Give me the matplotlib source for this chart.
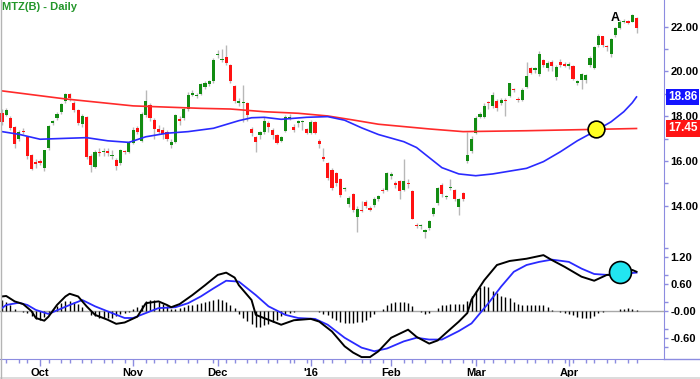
import numpy as np
import pandas as pd
import matplotlib
matplotlib.use('Agg')
import matplotlib.pyplot as plt
from matplotlib.lines import Line2D
from matplotlib.patches import Rectangle

plt.rcParams['font.family'] = ['Liberation Sans', 'DejaVu Sans']

# trading days shown on the chart
holidays = ['2015-11-26', '2015-12-25', '2016-01-01', '2016-01-18', '2016-02-15', '2016-03-25']
dates = pd.bdate_range('2015-09-18', '2016-04-25', freq='C', holidays=holidays)
month_labels = ['Oct', 'Nov', 'Dec', "'16", 'Feb', 'Mar', 'Apr']
price_ticks = [14, 16, 18, 20, 22]
macd_ticks = [-0.6, 0, 0.6, 1.2]
macd_tick_labels = ['-0.60', '-0.00', '0.60', '1.20']

opens = [18.14, 18.07, 17.92, 17.50, 17.00, 17.35, 17.07, 16.27, 15.95, 16.00,
         15.68, 16.58, 17.70, 17.90, 18.19, 18.68, 18.98, 18.60, 18.27, 17.65,
         17.96, 16.20, 15.73, 16.42, 16.38, 16.45, 16.20, 16.05, 15.90, 16.45,
         16.40, 16.80, 17.47, 16.90, 18.05, 18.50, 17.83, 17.42, 17.40, 17.30,
         16.70, 16.85, 17.86, 17.90, 18.30, 18.95, 18.88, 19.00, 19.30, 19.45,
         19.55, 20.75, 20.50, 20.65, 20.30, 19.35, 18.60, 18.60, 18.60, 17.42,
         17.05, 17.15, 17.30, 17.70, 17.40, 17.15, 16.90, 17.33, 17.90, 17.50,
         17.70, 17.72, 17.42, 17.25, 17.75, 16.90, 16.17, 15.90, 15.60, 15.45,
         15.20, 14.74, 14.06, 14.52, 13.50, 13.82, 14.15, 13.87, 14.02, 14.30,
         14.70, 14.70, 15.32, 15.00, 15.10, 14.72, 15.02, 14.67, 13.12, 13.08,
         12.84, 13.00, 13.62, 14.10, 14.92, 14.38, 14.80, 14.70, 13.93, 14.55,
         16.02, 16.45, 17.24, 17.95, 17.95, 18.65, 18.45, 18.70, 18.60, 18.72,
         18.90, 19.20, 18.78, 18.73, 19.30, 20.14, 20.07, 19.88, 20.50, 20.14,
         20.43, 19.74, 20.43, 20.30, 20.26, 20.24, 19.47, 19.62, 19.60, 20.29,
         20.14, 21.18, 21.58, 21.12, 20.80, 21.63, 21.93, 22.22, 22.25, 22.22,
         22.37]
highs = [18.30, 18.35, 18.00, 17.55, 17.40, 17.45, 17.10, 16.30, 16.10, 16.10,
         16.50, 17.60, 17.85, 18.20, 18.60, 19.05, 19.05, 18.70, 18.30, 18.10,
         18.00, 16.30, 16.50, 16.60, 16.60, 16.60, 16.50, 16.15, 16.55, 16.50,
         16.90, 17.50, 17.55, 18.20, 19.17, 18.60, 17.90, 17.60, 17.50, 17.40,
         17.00, 18.10, 18.00, 18.40, 19.10, 19.15, 19.05, 19.50, 19.55, 19.60,
         20.60, 20.95, 21.00, 21.20, 20.35, 19.40, 18.80, 19.40, 18.65, 17.50,
         17.10, 17.35, 17.95, 17.80, 17.45, 17.20, 17.10, 18.05, 18.10, 17.65,
         17.85, 17.85, 17.45, 17.85, 17.80, 17.00, 16.60, 15.95, 15.70, 15.50,
         15.25, 14.85, 14.45, 14.55, 14.00, 14.20, 14.25, 14.00, 14.40, 14.50,
         14.80, 15.50, 15.50, 15.10, 15.15, 16.10, 15.20, 14.70, 13.25, 13.20,
         12.95, 13.35, 13.95, 14.85, 15.00, 14.50, 15.20, 14.75, 14.35, 14.60,
         17.28, 17.10, 18.00, 18.20, 18.60, 18.70, 19.10, 18.75, 18.80, 18.80,
         19.50, 19.25, 18.85, 19.25, 20.40, 20.20, 20.20, 20.90, 20.55, 20.45,
         20.50, 20.30, 20.55, 20.40, 20.40, 20.30, 19.60, 19.95, 19.90, 20.70,
         21.15, 21.65, 21.60, 21.20, 21.50, 22.00, 22.30, 22.35, 22.30, 22.55,
         22.45]
lows = [17.60, 18.00, 17.40, 16.60, 16.90, 17.20, 16.10, 15.58, 15.70, 15.80,
        15.55, 16.50, 17.60, 17.85, 18.10, 18.60, 18.70, 18.20, 17.60, 17.50,
        16.10, 15.52, 15.70, 16.20, 16.20, 16.20, 16.10, 15.60, 15.80, 16.30,
        16.35, 16.75, 17.20, 16.85, 17.95, 17.80, 17.00, 17.20, 17.00, 16.90,
        16.60, 16.80, 17.60, 17.85, 18.25, 18.90, 18.80, 18.95, 19.20, 19.35,
        19.50, 20.60, 20.40, 20.30, 19.50, 18.60, 18.45, 17.75, 17.80, 17.10,
        16.40, 17.00, 17.20, 17.30, 17.00, 16.75, 16.85, 17.30, 17.85, 17.30,
        17.50, 17.40, 17.20, 17.20, 17.20, 16.60, 16.00, 15.15, 14.70, 14.90,
        14.40, 14.65, 13.95, 13.70, 12.84, 13.70, 13.90, 13.75, 13.95, 14.20,
        14.55, 14.65, 15.20, 14.80, 14.30, 14.65, 14.80, 13.40, 13.00, 12.95,
        12.55, 12.90, 13.55, 14.05, 14.40, 14.30, 14.70, 14.20, 13.60, 14.20,
        15.90, 16.35, 17.20, 17.90, 17.90, 18.30, 18.35, 18.25, 18.50, 18.00,
        18.85, 19.10, 18.65, 18.70, 19.25, 19.90, 19.95, 19.80, 20.20, 20.00,
        20.00, 19.60, 20.20, 20.20, 20.10, 19.60, 19.40, 19.20, 19.50, 20.20,
        20.10, 21.10, 21.10, 20.90, 20.65, 21.55, 21.90, 22.15, 22.10, 22.20,
        21.70]
closes = [17.74, 18.26, 17.47, 16.75, 17.30, 17.28, 16.22, 15.64, 15.88, 15.90,
          16.47, 17.56, 17.78, 18.10, 18.55, 19.00, 18.80, 18.28, 17.70, 18.00,
          16.17, 15.80, 16.40, 16.37, 16.42, 16.35, 16.25, 15.77, 16.50, 16.38,
          16.80, 17.40, 17.30, 18.10, 18.70, 17.90, 17.42, 17.30, 17.22, 17.00,
          16.85, 18.05, 17.80, 18.30, 18.95, 19.02, 18.95, 19.45, 19.48, 19.55,
          20.50, 20.80, 20.55, 20.37, 19.57, 18.70, 18.68, 18.65, 18.05, 17.25,
          16.85, 17.30, 17.80, 17.50, 17.15, 16.80, 17.05, 17.95, 17.97, 17.38,
          17.80, 17.78, 17.25, 17.75, 17.25, 16.75, 16.07, 15.22, 14.80, 15.00,
          14.48, 14.78, 14.36, 13.80, 13.85, 13.78, 14.00, 13.83, 14.30, 14.45,
          14.65, 15.47, 15.42, 14.92, 14.65, 15.10, 14.98, 13.42, 13.08, 13.12,
          12.90, 13.30, 13.88, 14.78, 14.52, 14.42, 14.85, 14.28, 14.28, 14.28,
          16.27, 17.00, 17.90, 18.10, 18.45, 18.58, 18.95, 18.35, 18.73, 18.67,
          19.47, 19.15, 18.73, 19.17, 19.80, 19.95, 20.14, 20.80, 20.30, 20.36,
          20.24, 20.20, 20.28, 20.26, 20.30, 19.65, 19.55, 19.88, 19.84, 20.59,
          21.10, 21.58, 21.18, 21.08, 21.44, 21.93, 22.22, 22.27, 22.15, 22.52,
          21.93]

# moving averages (day index, price)
ma50_idx = [0, 4, 9, 15, 20, 25, 30, 34, 39, 44, 50, 56, 59, 62, 66, 72, 77, 81, 85,
            89, 95, 98, 101, 104, 108, 112, 116, 124, 128, 132, 136, 140, 144, 147,
            149, 150]
ma50 = [17.31, 17.19, 16.97, 17.01, 17.04, 16.90, 16.83, 17.08, 17.24, 17.31, 17.46,
        17.80, 17.93, 17.95, 17.86, 17.95, 17.98, 17.82, 17.48, 17.18, 16.86, 16.60,
        16.15, 15.70, 15.42, 15.34, 15.42, 15.67, 15.97, 16.41, 16.90, 17.31, 17.75,
        18.20, 18.60, 18.86]
ma200_idx = [0, 15, 31, 47, 54, 62, 70, 77, 83, 89, 97, 101, 109, 124, 140, 150]
ma200 = [19.13, 18.77, 18.46, 18.35, 18.32, 18.20, 18.13, 18.01, 17.83, 17.64, 17.50,
         17.43, 17.31, 17.35, 17.41, 17.45]

# MACD panel
macd_idx = [0, 1, 3, 5, 7, 8, 10, 11, 13, 15, 16, 18, 20, 22, 25, 27, 29, 32, 34, 37,
            39, 40, 42, 45, 48, 51, 53, 55, 56, 59, 60, 63, 66, 69, 73, 75, 78, 81,
            83, 85, 87, 89, 92, 96, 98, 101, 103, 105, 108, 110, 111, 114, 117, 120,
            124, 128, 130, 133, 137, 140, 143, 146, 149, 150]
macd = [0.32, 0.33, 0.21, 0.15, -0.01, -0.16, -0.22, -0.13, 0.13, 0.32, 0.38, 0.32,
        0.10, -0.09, -0.20, -0.29, -0.26, -0.13, 0.17, 0.21, 0.13, 0.08, 0.15, 0.35,
        0.57, 0.80, 0.85, 0.74, 0.57, 0.24, -0.09, -0.20, -0.31, -0.21, -0.18, -0.24,
        -0.46, -0.79, -0.93, -1.03, -1.03, -0.90, -0.60, -0.42, -0.58, -0.73, -0.66,
        -0.49, -0.24, -0.05, 0.25, 0.68, 1.02, 1.11, 1.16, 1.24, 1.13, 0.98, 0.76,
        0.67, 0.80, 0.80, 0.91, 0.87]
signal_idx = [0, 1, 4, 6, 8, 11, 13, 16, 19, 22, 26, 29, 31, 34, 37, 41, 44, 47, 50,
              53, 56, 60, 63, 67, 70, 74, 77, 81, 85, 88, 91, 95, 98, 101, 104, 108,
              111, 115, 118, 121, 124, 127, 130, 134, 137, 140, 143, 146, 150]
signal = [0.06, 0.13, 0.18, 0.13, 0.02, -0.07, 0.01, 0.13, 0.24, 0.10, -0.05, -0.16,
          -0.16, -0.05, 0.06, 0.08, 0.17, 0.32, 0.50, 0.67, 0.65, 0.35, 0.10, -0.09,
          -0.16, -0.18, -0.31, -0.60, -0.82, -0.90, -0.84, -0.68, -0.60, -0.64, -0.64,
          -0.45, -0.28, 0.17, 0.54, 0.87, 1.02, 1.09, 1.14, 1.09, 0.94, 0.82, 0.80,
          0.82, 0.85]
hist = [0.24, 0.20, 0.12, 0.03, 0.00, -0.02, -0.05, -0.12, -0.18, -0.20,
        -0.14, -0.06, 0.03, 0.10, 0.17, 0.22, 0.22, 0.20, 0.15, 0.08,
        0.00, -0.10, -0.12, -0.15, -0.17, -0.17, -0.16, -0.12, -0.08, -0.05,
        -0.02, 0.03, 0.08, 0.14, 0.22, 0.25, 0.23, 0.20, 0.15, 0.10,
        0.04, 0.05, 0.06, 0.09, 0.12, 0.14, 0.16, 0.18, 0.20, 0.22,
        0.24, 0.26, 0.24, 0.20, 0.12, 0.06, -0.08, -0.15, -0.22, -0.30,
        -0.35, -0.35, -0.32, -0.30, -0.25, -0.20, -0.12, -0.07, -0.04, -0.02,
        -0.01, 0.00, 0.00, 0.00, 0.00, -0.02, -0.06, -0.10, -0.15, -0.20,
        -0.25, -0.27, -0.28, -0.27, -0.26, -0.24, -0.20, -0.14, -0.06, 0.00,
        0.04, 0.12, 0.18, 0.20, 0.19, 0.19, 0.18, 0.10, 0.00, -0.03,
        -0.06, -0.04, 0.00, 0.06, 0.12, 0.14, 0.16, 0.16, 0.15, 0.15,
        0.22, 0.32, 0.45, 0.52, 0.55, 0.52, 0.45, 0.40, 0.34, 0.30,
        0.28, 0.20, 0.15, 0.12, 0.12, 0.12, 0.12, 0.13, 0.12, 0.08,
        0.01, 0.00, -0.03, -0.05, -0.08, -0.10, -0.13, -0.16, -0.16, -0.16,
        -0.12, -0.05, -0.02, -0.01, 0.00, 0.00, 0.03, 0.05, 0.06, 0.05,
        0.02]

# highlighted spots
ma_cross = (140.4, 17.42)
macd_cross = (146.1, 0.86)
peak_label = (144.9, 22.38)

AX = '#8c8ce0'
GREEN = '#128c12'
RED = '#ff1212'

fig = plt.figure(figsize=(7, 3.79), dpi=100)
W, H = 700, 379
ax1 = fig.add_axes([0, 1 - 244 / H, 664 / W, 244 / H])
ax2 = fig.add_axes([0, 1 - 358.5 / H, 664 / W, (358.5 - 244) / H])

x = np.arange(len(dates))
o, h, l, c = map(np.array, (opens, highs, lows, closes))
up = c >= o
ax1.vlines(x, l, h, color='#b8b8b8', lw=1, zorder=1)
body = np.maximum(np.abs(c - o), 0.05)
ax1.bar(x, body, bottom=np.minimum(o, c), width=0.74,
        color=np.where(up, GREEN, RED), linewidth=0, zorder=2)
ax1.plot(ma200_idx, ma200, color='#ff2a2a', lw=1.2, zorder=3)
ax1.plot(ma50_idx, ma50, color='#2a2aff', lw=1.2, zorder=3)
ax1.scatter(*ma_cross, s=145, color='#ffff22', edgecolor='black', lw=1.2, zorder=5)
ax1.text(*peak_label, 'A', ha='center', va='center', fontsize=9, fontweight='bold')

ax1.set_xlim(-0.47, 156.5)
ax1.set_ylim(12.29, 23.19)
ax1.set_yticks(price_ticks)
ax1.set_yticklabels([f'{v:.2f}' for v in price_ticks], fontweight='bold')
ax1.set_yticks([15, 17, 19, 21], minor=True)
ax1.set_xticks([])

for val, col in ((ma50[-1], '#1414ff'), (ma200[-1], '#ff1414')):
    ax1.annotate(f'{val:.2f}', xy=(1, val), xycoords=('axes fraction', 'data'),
                 xytext=(4, 0), textcoords='offset pixels', ha='left', va='center',
                 color='white', fontsize=8.5, fontweight='bold', annotation_clip=False,
                 bbox=dict(boxstyle='square,pad=0.18', fc=col, ec='none'))

ax2.axhline(0, color='#a8a8a8', lw=1, zorder=1)
ax2.vlines(x, 0, hist, color='black', lw=1, zorder=2)
ax2.plot(signal_idx, signal, color='#2a2aff', lw=1.3, zorder=3)
ax2.plot(macd_idx, macd, color='black', lw=1.4, zorder=4)
ax2.scatter(*macd_cross, s=250, color='#22e5f0', edgecolor='black', lw=1.2, zorder=5)
ax2.set_xlim(-0.47, 156.5)
ax2.set_ylim(-1.062, 1.488)
ax2.set_yticks(macd_ticks)
ax2.set_yticklabels(macd_tick_labels, fontweight='bold')
ax2.set_yticks([-0.8, -0.4, 0.2, 0.8, 1.4], minor=True)

month_pos = [i for i in range(1, len(dates)) if dates[i].month != dates[i - 1].month]
ax2.set_xticks(month_pos)
ax2.set_xticklabels(month_labels, fontweight='bold')
ax2.set_xticks([i for i, d in enumerate(dates) if d.weekday() in (0, 3)], minor=True)

for ax in (ax1, ax2):
    ax.set_facecolor('none')
    for s in ('top', 'left', 'bottom'):
        ax.spines[s].set_visible(False)
    ax.spines['right'].set_color(AX)
    ax.yaxis.tick_right()
    ax.tick_params(axis='y', which='major', direction='out', length=3, width=1,
                   color=AX, labelsize=8, pad=1.5)
    ax.tick_params(axis='y', which='minor', direction='out', length=3, width=1, color=AX)

ax2.spines['bottom'].set_visible(True)
ax2.spines['bottom'].set_color(AX)
ax2.tick_params(axis='x', which='major', direction='out', length=5, width=1,
                color=AX, labelsize=8, pad=2)
ax2.tick_params(axis='x', which='minor', direction='out', length=3, width=1, color=AX)

fig.text(2 / W, 1 - 7 / H, 'MTZ(B) - Daily', color='#23962a', fontsize=8,
         fontweight='bold', ha='left', va='center')
fig.add_artist(Line2D([664 / W, 1], [1 - 358.5 / H] * 2, color=AX, lw=1))
fig.add_artist(Line2D([0.5 / W] * 2, [0, 1], color='#b4b4b4', lw=1))
fig.add_artist(Rectangle((0, 0), 1, 2.5 / H, transform=fig.transFigure,
                         color='#dcdcdc', lw=0))

fig.savefig('out.png', dpi=100)
